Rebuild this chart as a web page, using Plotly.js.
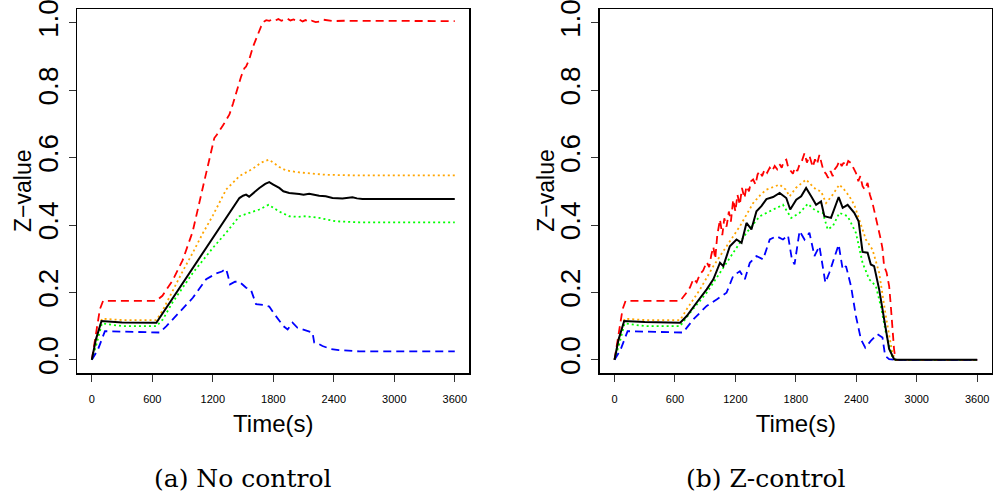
<!DOCTYPE html>
<html>
<head>
<meta charset="utf-8">
<script src="https://cdn.plot.ly/plotly-3.0.1.min.js"></script>
<style>html,body{margin:0;padding:0;background:#fff;}#chart{width:993px;height:497px;}</style>
</head>
<body>
<div id="chart"></div>
<script>
// ---------- Panel (a): No control ----------
const a_red_t = [0, 40, 80, 112, 300, 640, 700, 800, 900, 1000, 1100, 1200, 1215, 1240, 1270, 1300, 1330, 1365, 1400, 1440, 1480, 1513, 1530, 1560, 1600, 1640, 1680, 1711, 1730, 1760, 1790, 1820, 1850, 1880, 1910, 1940, 1970, 2000, 2030, 2060, 2090, 2120, 2150, 2180, 2220, 2260, 2300, 2350, 2400, 2500, 3600];
const a_red_v = [0, 0.07, 0.15, 0.175, 0.175, 0.175, 0.19, 0.235, 0.295, 0.38, 0.51, 0.645, 0.658, 0.668, 0.68, 0.695, 0.71, 0.728, 0.76, 0.80, 0.84, 0.865, 0.87, 0.89, 0.93, 0.96, 0.99, 1.004, 1.008, 1.006, 1.010, 1.007, 1.011, 1.006, 1.009, 1.012, 1.007, 1.010, 1.006, 1.009, 1.004, 1.008, 1.003, 1.006, 1.002, 1.004, 1.009, 1.006, 1.005, 1.006, 1.005];

const a_orange_t = [0, 50, 100, 300, 640, 700, 800, 900, 1000, 1100, 1200, 1332, 1464, 1530, 1596, 1680, 1754, 1800, 1860, 1925, 2057, 2321, 2651, 3600];
const a_orange_v = [0, 0.06, 0.122, 0.118, 0.118, 0.145, 0.205, 0.262, 0.317, 0.375, 0.428, 0.505, 0.545, 0.556, 0.567, 0.585, 0.594, 0.585, 0.572, 0.562, 0.556, 0.549, 0.547, 0.547];

const a_black_t = [0, 40, 96, 300, 640, 700, 837, 1002, 1200, 1332, 1464, 1500, 1530, 1560, 1600, 1662, 1720, 1760, 1800, 1859, 1900, 1958, 2057, 2100, 2156, 2200, 2255, 2320, 2387, 2486, 2540, 2585, 2630, 2684, 3600];
const a_black_v = [0, 0.06, 0.115, 0.111, 0.110, 0.137, 0.199, 0.275, 0.362, 0.42, 0.48, 0.487, 0.49, 0.484, 0.495, 0.51, 0.522, 0.527, 0.52, 0.51, 0.5, 0.495, 0.492, 0.490, 0.493, 0.490, 0.487, 0.485, 0.48, 0.479, 0.480, 0.482, 0.479, 0.477, 0.477];

const a_green_t = [0, 50, 100, 300, 640, 705, 800, 1002, 1200, 1332, 1464, 1563, 1662, 1754, 1800, 1859, 1958, 2050, 2123, 2255, 2420, 2651, 3600];
const a_green_v = [0, 0.05, 0.108, 0.100, 0.100, 0.12, 0.17, 0.258, 0.332, 0.377, 0.426, 0.436, 0.446, 0.46, 0.452, 0.44, 0.426, 0.424, 0.426, 0.421, 0.411, 0.408, 0.408];

const a_blue_t = [0, 60, 130, 400, 673, 740, 837, 1002, 1134, 1233, 1290, 1332, 1350, 1371, 1420, 1464, 1500, 1530, 1579, 1600, 1629, 1700, 1760, 1800, 1859, 1900, 1942, 1991, 2040, 2090, 2140, 2189, 2206, 2250, 2288, 2371, 2450, 2552, 2651, 3600];
const a_blue_v = [0, 0.03, 0.085, 0.083, 0.081, 0.1, 0.13, 0.184, 0.239, 0.256, 0.262, 0.27, 0.25, 0.224, 0.232, 0.231, 0.222, 0.214, 0.207, 0.19, 0.165, 0.163, 0.158, 0.14, 0.115, 0.1, 0.09, 0.11, 0.095, 0.09, 0.085, 0.081, 0.051, 0.047, 0.041, 0.032, 0.029, 0.027, 0.025, 0.025];

// ---------- Panel (b): Z-control ----------
const b_red_t = [0, 40, 80, 110, 300, 652, 717, 750, 783, 815, 850, 880, 915, 940, 960, 981, 1000, 1020, 1047, 1070, 1090, 1112, 1135, 1155, 1178, 1200, 1220, 1244, 1265, 1290, 1310, 1335, 1355, 1376, 1400, 1420, 1442, 1465, 1490, 1515, 1541, 1565, 1590, 1615, 1639, 1660, 1680, 1705, 1725, 1750, 1771, 1790, 1815, 1837, 1860, 1886, 1910, 1935, 1950, 1968, 1990, 2010, 2034, 2055, 2075, 2100, 2120, 2145, 2166, 2185, 2210, 2232, 2255, 2275, 2298, 2320, 2347, 2370, 2396, 2420, 2440, 2462, 2485, 2512, 2535, 2561, 2580, 2594, 2615, 2643, 2660, 2676, 2700, 2726, 2740, 2758, 2775, 2791, 3600];
const b_red_v = [0, 0.07, 0.15, 0.175, 0.175, 0.175, 0.2, 0.215, 0.24, 0.23, 0.255, 0.265, 0.29, 0.275, 0.31, 0.335, 0.30, 0.37, 0.416, 0.37, 0.42, 0.395, 0.44, 0.41, 0.475, 0.44, 0.49, 0.46, 0.51, 0.48, 0.515, 0.50, 0.53, 0.535, 0.52, 0.55, 0.56, 0.545, 0.565, 0.555, 0.57, 0.56, 0.575, 0.565, 0.58, 0.57, 0.59, 0.594, 0.57, 0.56, 0.552, 0.57, 0.56, 0.58, 0.59, 0.613, 0.585, 0.605, 0.59, 0.572, 0.595, 0.58, 0.608, 0.58, 0.56, 0.552, 0.54, 0.56, 0.545, 0.565, 0.575, 0.59, 0.575, 0.585, 0.572, 0.59, 0.584, 0.57, 0.555, 0.53, 0.545, 0.515, 0.505, 0.525, 0.49, 0.465, 0.44, 0.426, 0.40, 0.357, 0.33, 0.278, 0.26, 0.219, 0.17, 0.081, 0.03, 0, 0];

const b_orange_t = [0, 50, 100, 300, 652, 717, 849, 981, 1112, 1244, 1376, 1450, 1508, 1570, 1639, 1700, 1738, 1800, 1860, 1902, 1950, 2001, 2050, 2100, 2166, 2232, 2280, 2331, 2380, 2430, 2495, 2561, 2627, 2693, 2758, 2791, 3600];
const b_orange_v = [0, 0.06, 0.122, 0.118, 0.118, 0.15, 0.209, 0.278, 0.337, 0.396, 0.465, 0.49, 0.505, 0.512, 0.52, 0.505, 0.485, 0.51, 0.525, 0.535, 0.52, 0.505, 0.50, 0.465, 0.49, 0.52, 0.505, 0.485, 0.46, 0.416, 0.357, 0.327, 0.258, 0.13, 0.02, 0, 0];

const b_black_t = [0, 40, 96, 300, 652, 717, 816, 915, 981, 1047, 1080, 1145, 1211, 1261, 1310, 1359, 1409, 1458, 1508, 1574, 1639, 1705, 1744, 1804, 1853, 1902, 1952, 2001, 2050, 2083, 2149, 2182, 2225, 2265, 2314, 2380, 2423, 2462, 2512, 2544, 2577, 2627, 2676, 2726, 2775, 2791, 3600];
const b_black_v = [0, 0.06, 0.115, 0.112, 0.110, 0.13, 0.17, 0.209, 0.239, 0.288, 0.278, 0.337, 0.357, 0.347, 0.406, 0.387, 0.441, 0.456, 0.477, 0.483, 0.495, 0.48, 0.446, 0.475, 0.485, 0.51, 0.485, 0.46, 0.47, 0.426, 0.421, 0.446, 0.483, 0.451, 0.46, 0.436, 0.411, 0.32, 0.318, 0.283, 0.278, 0.209, 0.12, 0.032, 0.002, 0, 0];

const b_green_t = [0, 50, 100, 300, 652, 750, 915, 1047, 1178, 1310, 1442, 1574, 1672, 1754, 1837, 1919, 2001, 2067, 2116, 2166, 2232, 2314, 2396, 2462, 2528, 2594, 2643, 2693, 2758, 2791, 3600];
const b_green_v = [0, 0.05, 0.108, 0.100, 0.100, 0.14, 0.199, 0.258, 0.318, 0.377, 0.426, 0.446, 0.46, 0.421, 0.436, 0.463, 0.441, 0.436, 0.387, 0.396, 0.436, 0.426, 0.377, 0.288, 0.239, 0.219, 0.16, 0.081, 0.007, 0, 0];

const b_blue_t = [0, 60, 130, 400, 680, 783, 915, 1014, 1112, 1178, 1244, 1294, 1343, 1409, 1475, 1541, 1607, 1672, 1722, 1761, 1787, 1837, 1886, 1935, 1985, 2034, 2093, 2133, 2182, 2225, 2265, 2298, 2347, 2396, 2446, 2489, 2544, 2610, 2660, 2686, 2726, 2791, 3600];
const b_blue_v = [0, 0.03, 0.085, 0.083, 0.081, 0.12, 0.16, 0.179, 0.199, 0.249, 0.263, 0.239, 0.288, 0.308, 0.298, 0.357, 0.367, 0.357, 0.369, 0.298, 0.283, 0.382, 0.357, 0.377, 0.308, 0.337, 0.229, 0.259, 0.303, 0.342, 0.268, 0.278, 0.219, 0.13, 0.061, 0.036, 0.056, 0.076, 0.066, 0.012, 0.002, 0, 0];

// ---------- Axis labels ----------
const xTicks = [0, 600, 1200, 1800, 2400, 3000, 3600];
const yTicks = [0, 0.2, 0.4, 0.6, 0.8, 1.0];
const yTickText = ["0.0", "0.2", "0.4", "0.6", "0.8", "1.0"];
const xTitle = "Time(s)";
const yTitle = "Z\u2212value";
const captions = ["(a) No control", "(b) Z-control"];

const styles = {
  red:    {color: "#FF0000", dash: "8px,5px", width: 1.8},
  orange: {color: "#FFA500", dash: "2px,3px", width: 1.8},
  black:  {color: "#000000", dash: "solid", width: 2},
  green:  {color: "#00FF00", dash: "2px,3px", width: 1.8},
  blue:   {color: "#0000FF", dash: "8px,5px", width: 1.8}
};

function tr(t, v, st, xa, ya) {
  return {x: t, y: v, type: "scatter", mode: "lines", xaxis: xa, yaxis: ya,
          line: {color: st.color, dash: st.dash, width: st.width}, showlegend: false, hoverinfo: "skip"};
}

const data = [
  tr(a_red_t, a_red_v, styles.red, "x", "y"),
  tr(a_orange_t, a_orange_v, styles.orange, "x", "y"),
  tr(a_green_t, a_green_v, styles.green, "x", "y"),
  tr(a_blue_t, a_blue_v, styles.blue, "x", "y"),
  tr(a_black_t, a_black_v, styles.black, "x", "y"),
  tr(b_red_t, b_red_v, styles.red, "x2", "y2"),
  tr(b_orange_t, b_orange_v, styles.orange, "x2", "y2"),
  tr(b_green_t, b_green_v, styles.green, "x2", "y2"),
  tr(b_blue_t, b_blue_v, styles.blue, "x2", "y2"),
  tr(b_black_t, b_black_v, styles.black, "x2", "y2")
];

const W = 993, H = 497;
const yDom = [1 - 373.3 / H, 1 - 9.3 / H];
const sans = "Liberation Sans, Arial, sans-serif";

function xAxis(dom, anchor) {
  return {
    domain: dom, anchor: anchor, range: [-144, 3744],
    tickmode: "array", tickvals: xTicks, ticktext: xTicks.map(String),
    ticks: "outside", ticklen: 7, tickwidth: 1, tickcolor: "#333",
    ticklabelstandoff: 8,
    showline: true, mirror: true, linecolor: "#000", linewidth: 1.6,
    showgrid: false, zeroline: false,
    tickfont: {family: sans, size: 11, color: "#000"},
    title: {text: xTitle, font: {family: sans, size: 24, color: "#000"}, standoff: 11},
    automargin: false
  };
}
function yAxis(anchor) {
  return {
    domain: yDom, anchor: anchor, range: [-0.04, 1.04],
    tickmode: "array", tickvals: yTicks, ticktext: yTickText,
    tickangle: -90,
    ticks: "outside", ticklen: 7, tickwidth: 1, tickcolor: "#333",
    ticklabelstandoff: 0, ticklabeloverflow: "allow",
    showline: true, mirror: true, linecolor: "#000", linewidth: 1.6,
    showgrid: false, zeroline: false,
    tickfont: {family: sans, size: 28, color: "#000"},
    automargin: false
  };
}

function yTitleAnn(xpx) {
  return {text: yTitle, xref: "paper", yref: "paper", x: xpx / W, y: 1 - 191 / H,
          xanchor: "center", yanchor: "middle", textangle: -90, showarrow: false,
          font: {family: sans, size: 23, color: "#000"}};
}

const layout = {
  width: W, height: H,
  margin: {l: 0, r: 0, t: 0, b: 0},
  paper_bgcolor: "#fff", plot_bgcolor: "#fff",
  xaxis: xAxis([77.3 / W, 469.3 / W], "y"),
  yaxis: yAxis("x"),
  xaxis2: xAxis([600 / W, 991.7 / W], "y2"),
  yaxis2: yAxis("x2"),
  annotations: [
    yTitleAnn(23),
    yTitleAnn(23 + 522.7),
    {text: captions[0], xref: "paper", yref: "paper", x: 242.5 / W, y: 1 - 478 / H, xanchor: "center", yanchor: "middle",
     showarrow: false, font: {family: "DejaVu Serif, serif", size: 25, color: "#000"}},
    {text: captions[1], xref: "paper", yref: "paper", x: 765 / W, y: 1 - 478 / H, xanchor: "center", yanchor: "middle",
     showarrow: false, font: {family: "DejaVu Serif, serif", size: 25, color: "#000"}}
  ]
};

Plotly.newPlot("chart", data, layout, {displayModeBar: false, staticPlot: true});
</script>
</body>
</html>
